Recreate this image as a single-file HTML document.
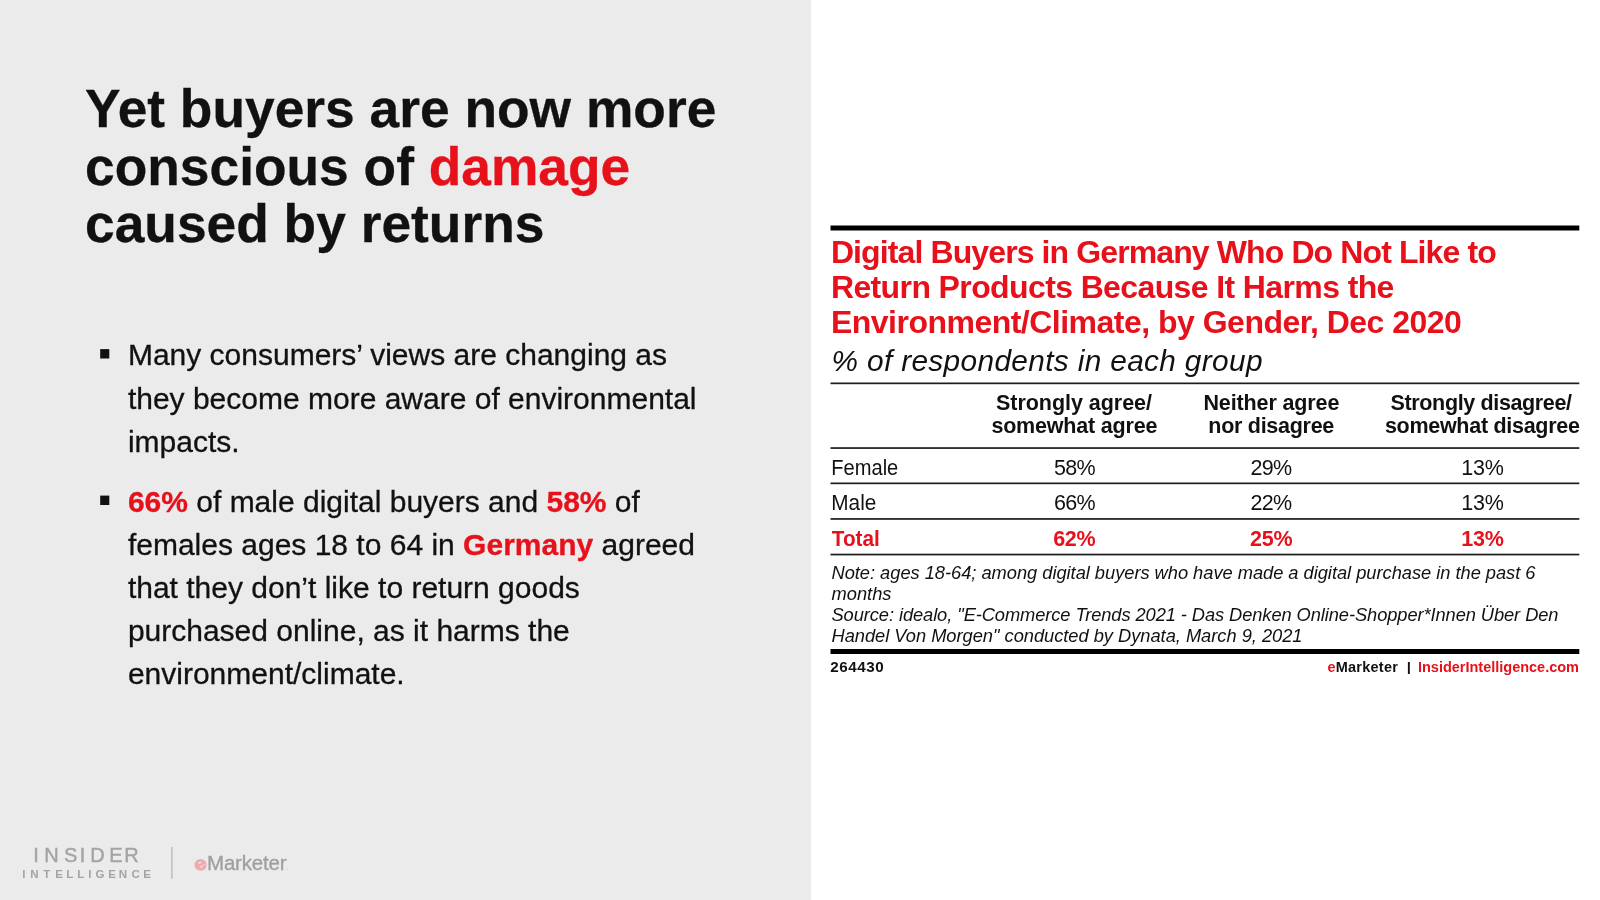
<!DOCTYPE html>
<html>
<head>
<meta charset="utf-8">
<title>Slide</title>
<style>
html,body{margin:0;padding:0;}
body{width:1600px;height:900px;position:relative;overflow:hidden;background:#fff;font-family:"Liberation Sans",sans-serif;}
.left{position:absolute;left:0;top:0;width:811px;height:900px;background:#ebebeb;}
.abs{position:absolute;white-space:nowrap;}
.red{color:#e7111b !important;}
/* slide title */
.title{left:85px;top:80.2px;font-size:53.33px;line-height:57.6px;font-weight:bold;color:#111;-webkit-text-stroke:0.3px currentColor;}
.title .red{-webkit-text-stroke:0.3px #e7111b;}
/* body */
.body{font-size:30px;line-height:43.2px;color:#111;left:127.9px;-webkit-text-stroke:0.3px currentColor;}
.body b{-webkit-text-stroke:0.3px #e7111b;}
</style>
</head>
<body>
<div class="left"></div>
<div id="wrap" style="position:absolute;left:0;top:0;width:1600px;height:900px;will-change:transform">

<div class="abs title">Yet buyers are now more<br>conscious of <span class="red">damage</span><br>caused by returns</div>

<div class="abs body" style="top:333.35px">Many consumers’ views are changing as<br>they become more aware of environmental<br>impacts.</div>
<div class="abs body" style="top:479.5px"><b class="red">66%</b> of male digital buyers and <b class="red">58%</b> of<br>females ages 18 to 64 in <b class="red">Germany</b> agreed<br>that they don’t like to return goods<br>purchased online, as it harms the<br>environment/climate.</div>

<!-- chart -->
<svg class="chart" width="1600" height="900" viewBox="0 0 1600 900" style="position:absolute;left:0;top:0;font-family:'Liberation Sans',sans-serif">
<rect x="100.2" y="349.1" width="9.1" height="9.4" fill="#111"/>
<rect x="100.2" y="495.6" width="9.1" height="9.4" fill="#111"/>
<rect x="830.5" y="225.5" width="748.8" height="5" fill="#000"/>
<g fill="#e7111b" font-weight="bold" font-size="32">
<text x="830.9" y="263" textLength="665.8" lengthAdjust="spacing">Digital Buyers in Germany Who Do Not Like to</text>
<text x="830.9" y="297.7" textLength="563.5" lengthAdjust="spacing">Return Products Because It Harms the</text>
<text x="830.9" y="332.5" textLength="631" lengthAdjust="spacing">Environment/Climate, by Gender, Dec 2020</text>
</g>
<text x="831.5" y="370.5" font-style="italic" font-size="29.8" fill="#111" textLength="431" lengthAdjust="spacing">% of respondents in each group</text>
<g fill="#1c1c1c">
<rect x="830.5" y="382.5" width="748.8" height="1.7"/>
<rect x="830.5" y="447.2" width="748.8" height="1.7"/>
<rect x="830.5" y="482.5" width="748.8" height="1.7"/>
<rect x="830.5" y="518.1" width="748.8" height="1.7"/>
<rect x="830.5" y="553.7" width="748.8" height="1.7"/>
</g>
<g fill="#111" font-weight="bold" font-size="21.5" text-anchor="middle">
<text x="1074" y="409.7" textLength="156" lengthAdjust="spacing">Strongly agree/</text>
<text x="1074.4" y="433.3" textLength="166" lengthAdjust="spacing">somewhat agree</text>
<text x="1271.4" y="409.7" textLength="136" lengthAdjust="spacing">Neither agree</text>
<text x="1271.3" y="433.3" textLength="126" lengthAdjust="spacing">nor disagree</text>
<text x="1481.3" y="409.7" textLength="181.5" lengthAdjust="spacing">Strongly disagree/</text>
<text x="1482.4" y="433.3" textLength="195" lengthAdjust="spacing">somewhat disagree</text>
</g>
<g fill="#111" font-size="21.5">
<text x="831.3" y="474.6" textLength="67" lengthAdjust="spacingAndGlyphs">Female</text>
<text x="831.3" y="510" textLength="45" lengthAdjust="spacingAndGlyphs">Male</text>
<g text-anchor="middle">
<text x="1074.8" y="474.6" textLength="41.5" lengthAdjust="spacing">58%</text>
<text x="1271.3" y="474.6" textLength="41.5" lengthAdjust="spacing">29%</text>
<text x="1482.5" y="474.6" textLength="42.5" lengthAdjust="spacing">13%</text>
<text x="1074.8" y="510" textLength="41.5" lengthAdjust="spacing">66%</text>
<text x="1271.3" y="510" textLength="41.5" lengthAdjust="spacing">22%</text>
<text x="1482.5" y="510" textLength="42.5" lengthAdjust="spacing">13%</text>
</g>
</g>
<g fill="#e7111b" font-size="21.5" font-weight="bold">
<text x="831.8" y="545.7" textLength="48" lengthAdjust="spacingAndGlyphs">Total</text>
<g text-anchor="middle">
<text x="1074.4" y="545.7" textLength="42.5" lengthAdjust="spacing">62%</text>
<text x="1271.3" y="545.7" textLength="42.5" lengthAdjust="spacing">25%</text>
<text x="1482.5" y="545.7" textLength="42.5" lengthAdjust="spacing">13%</text>
</g>
</g>
<g fill="#111" font-size="18.3" font-style="italic">
<text x="831.5" y="579" textLength="704" lengthAdjust="spacing">Note: ages 18-64; among digital buyers who have made a digital purchase in the past 6</text>
<text x="831.5" y="599.8">months</text>
<text x="831.5" y="620.8" textLength="727" lengthAdjust="spacing">Source: idealo, "E-Commerce Trends 2021 - Das Denken Online-Shopper*Innen Über Den</text>
<text x="831.5" y="641.7" textLength="471" lengthAdjust="spacing">Handel Von Morgen" conducted by Dynata, March 9, 2021</text>
</g>
<rect x="830.5" y="649" width="748.8" height="5" fill="#000"/>
<g fill="#111" font-size="14.5" font-weight="bold">
<text x="830.3" y="672" font-size="15.2" textLength="53.5" lengthAdjust="spacing">264430</text>
<text x="1327.4" y="672" textLength="70.5" lengthAdjust="spacing"><tspan fill="#e7111b">e</tspan>Marketer</text>
<rect x="1407.9" y="662" width="1.9" height="12" fill="#111"/>
<text x="1418" y="672" fill="#e7111b" textLength="161" lengthAdjust="spacing">InsiderIntelligence.com</text>
</g>
</svg>

<!-- bottom logos -->
<svg width="400" height="80" viewBox="0 820 400 80" style="position:absolute;left:0;top:820px;font-family:'Liberation Sans',sans-serif">
<text y="862" font-size="20" fill="#a4a4a4" stroke="#a4a4a4" stroke-width="0.45" x="33.15 44.36 64.09 79.65 90.36 109.36 124.36">INSIDER</text>
<text y="878.2" font-size="11.5" font-weight="bold" fill="#a4a4a4" x="22.23 30.23 43.37 55.23 66.23 77.23 88.23 95.53 108.23 118.73 131.53 143.23">INTELLIGENCE</text>
<rect x="171" y="847" width="1.7" height="31.7" fill="#c2c2c2"/>
<ellipse cx="200.6" cy="864.8" rx="6.2" ry="5.85" fill="#f0a9af"/>
<ellipse cx="199.7" cy="862.8" rx="1.5" ry="0.85" fill="#ebebeb" transform="rotate(-18 199.7 862.8)"/>
<ellipse cx="201.2" cy="866.6" rx="1.5" ry="0.75" fill="#ebebeb" transform="rotate(-18 201.2 866.6)"/>
<path d="M201.6 865.7 L206.6 864.1" stroke="#ebebeb" stroke-width="0.55" fill="none"/>
<circle cx="287.3" cy="869.3" r="0.9" fill="#d9d9d9"/>
</svg>
<div class="abs" style="left:207px;top:851px;font-size:20.5px;line-height:24px;color:#9f9f9f;letter-spacing:-0.2px;-webkit-text-stroke:0.35px #9f9f9f">Marketer</div>
</div>
</body>
</html>
